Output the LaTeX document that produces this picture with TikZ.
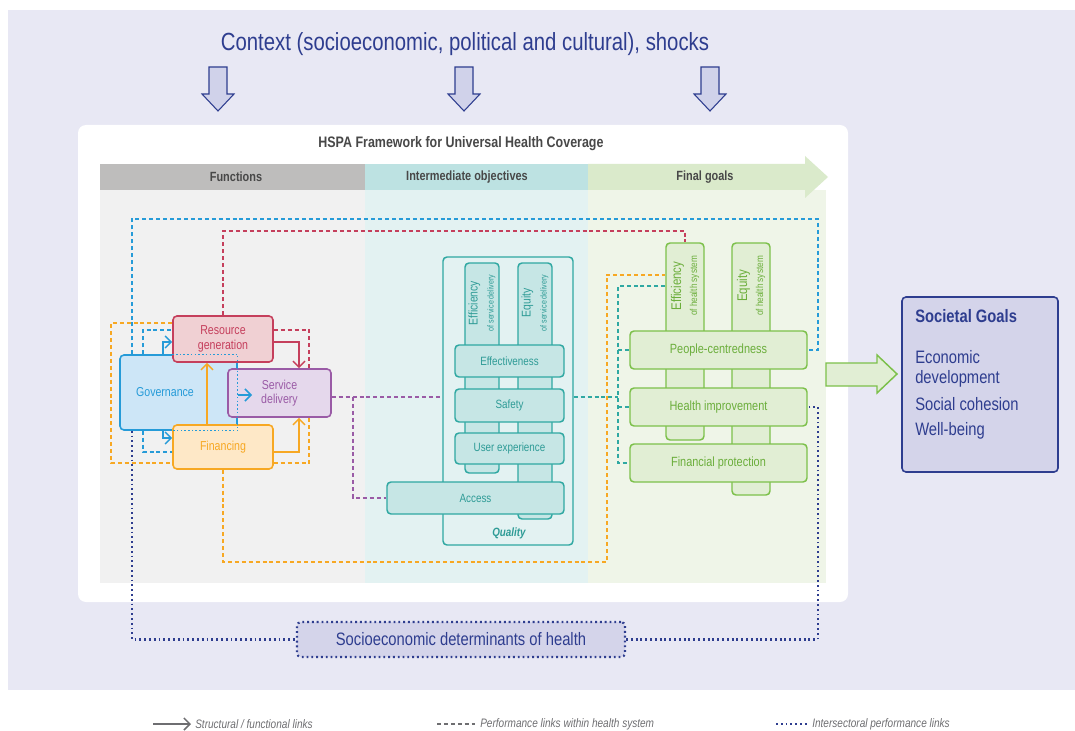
\documentclass[tikz,border=0pt]{standalone}
\usepackage{fontspec}
\setmainfont{Liberation Sans}[FakeStretch=0.82]
\usetikzlibrary{arrows.meta}

\definecolor{lavbg}{RGB}{232,232,244}
\definecolor{navyc}{RGB}{46,61,143}
\definecolor{arrfill}{RGB}{208,210,234}
\definecolor{hdrgray}{RGB}{190,189,188}
\definecolor{hdrteal}{RGB}{189,226,226}
\definecolor{hdrgreen}{RGB}{218,234,203}
\definecolor{colgray}{RGB}{241,241,241}
\definecolor{colteal}{RGB}{227,242,242}
\definecolor{colgreen}{RGB}{239,245,232}
\definecolor{govc}{RGB}{38,155,216}
\definecolor{govfill}{RGB}{205,230,247}
\definecolor{rgc}{RGB}{197,63,92}
\definecolor{rgfill}{RGB}{240,208,211}
\definecolor{sdc}{RGB}{154,91,166}
\definecolor{sdfill}{RGB}{229,216,236}
\definecolor{finc}{RGB}{247,168,35}
\definecolor{finfill}{RGB}{254,232,199}
\definecolor{tealc}{RGB}{47,168,162}
\definecolor{tealfill}{RGB}{198,230,229}
\definecolor{tealtxt}{RGB}{46,155,150}
\definecolor{grnc}{RGB}{124,192,74}
\definecolor{grnfill}{RGB}{225,238,212}
\definecolor{grntxt}{RGB}{107,174,59}
\definecolor{socfill}{RGB}{212,212,234}
\definecolor{hdrtxt}{RGB}{72,72,72}
\definecolor{lgdtxt}{RGB}{110,110,113}

\newcommand{\ctxfont}{\fontsize{18.6pt}{21pt}\selectfont}
\newcommand{\ttlfont}{\bfseries\fontsize{11.4pt}{13pt}\selectfont}
\newcommand{\hdrfont}{\bfseries\fontsize{10pt}{11pt}\selectfont}
\newcommand{\fnfont}{\fontsize{9.7pt}{10.7pt}\selectfont}
\newcommand{\iofont}{\fontsize{9pt}{10pt}\selectfont}
\newcommand{\fgfont}{\fontsize{10pt}{11pt}\selectfont}
\newcommand{\socfont}{\fontsize{13.5pt}{15pt}\selectfont}
\newcommand{\lgdfont}{\itshape\fontsize{9.2pt}{10pt}\selectfont}

\tikzset{
  box/.style={draw, rounded corners=3pt, line width=1.2pt, inner sep=0pt, align=center},
  fnbox/.style={box, font=\fnfont},
  govbox/.style={fnbox, draw=govc, fill=govfill, text=govc},
  rgbox/.style={fnbox, draw=rgc, fill=rgfill, text=rgc},
  sdbox/.style={fnbox, draw=sdc, fill=sdfill, text=sdc},
  finbox/.style={fnbox, draw=finc, fill=finfill, text=finc},
  iobox/.style={box, line width=1.1pt, draw=tealc, fill=tealfill, text=tealtxt, font=\iofont},
  fgbox/.style={box, line width=1.1pt, draw=grnc, fill=grnfill, text=grntxt, font=\fgfont},
  barlbl/.style={rotate=90, align=center, inner sep=0pt},
  perf/.style={line width=1pt, dash pattern={on 3pt off 2.2pt}},
  inter/.style={draw=navyc, line width=1.6pt, dash pattern={on 1.4pt off 2.2pt}},
  struct/.style={line width=1.1pt, -{Straight Barb[length=4.5pt,width=9pt]}},
  ctxarrow/.style={draw=navyc, fill=arrfill, line width=0.8pt},
  hdrlbl/.style={font=\hdrfont, text=hdrtxt},
  lgdlbl/.style={font=\lgdfont, text=lgdtxt, anchor=west, inner sep=0pt},
}

\begin{document}
\begin{tikzpicture}[x=0.75pt,y=0.75pt,yscale=-1,xscale=1]
\useasboundingbox (0,0) rectangle (1075,731);

% backgrounds
\fill[lavbg] (8,10) rectangle (1075,690);
\fill[white, rounded corners=6pt] (78,125) rectangle (848,602);
\fill[colgray] (100,190) rectangle (365,583);
\fill[colteal] (365,190) rectangle (588,583);
\fill[colgreen] (588,190) rectangle (826,583);

% context
\node[font=\ctxfont, text=navyc] (ctx) at (465,44) {Context (socioeconomic, political and cultural), shocks};
\foreach \cx in {218,464,710}
  \draw[ctxarrow] (\cx-9,67) -- (\cx+9,67) -- (\cx+9,94) -- (\cx+16,94) -- (\cx,111) -- (\cx-16,94) -- (\cx-9,94) -- cycle;

% header band
\node[font=\ttlfont, text=hdrtxt] (ttl) at (461,144) {HSPA Framework for Universal Health Coverage};
\fill[hdrgray] (100,164) rectangle (365,190);
\fill[hdrteal] (365,164) rectangle (588,190);
\fill[hdrgreen] (588,164) -- (805,164) -- (805,156) -- (828,177) -- (805,198) -- (805,190) -- (588,190) -- cycle;
\node[hdrlbl] (hfun) at (236,177) {Functions};
\node[hdrlbl] (hint) at (467,177) {Intermediate objectives};
\node[hdrlbl] (hfin) at (705,177) {Final goals};

% functions
\node[govbox, minimum width=87.75pt, minimum height=56.25pt] (gov) at (178.5,392.5) {};
\node[font=\fnfont, text=govc] (govlbl) at (165,392) {Governance};
\node[rgbox, minimum width=75pt, minimum height=34.5pt] (rg) at (223,339) {Resource\\generation};
\node[finbox, minimum width=75pt, minimum height=33pt] (fin) at (223,447) {Financing};
\node[sdbox, minimum width=77.25pt, minimum height=36pt] (sd) at (279.5,393) {Service\\delivery};
\draw[govc, line width=1pt, dash pattern={on 1.2pt off 1.6pt}] (rg.west |- gov.north) -| (gov.south east) -- (fin.west |- gov.south);

% intermediate objectives
\node[box, line width=1.1pt, draw=tealc, minimum width=97.5pt, minimum height=216pt] (qual) at (508,401) {};
\node[font=\bfseries\itshape\iofont, text=tealtxt] (quallbl) at (509,533) {Quality};
\node[iobox, minimum width=25.5pt, minimum height=157.5pt] (effsd) at (482,368) {};
\node[iobox, minimum width=25.5pt, minimum height=192pt] (eqsd) at (535,391) {};
\node[barlbl, text=tealtxt] (effsdlbl) at (482,303) {{\fontsize{9.5pt}{8pt}\selectfont Efficiency}\\{\fontsize{6.5pt}{7pt}\selectfont of service delivery}};
\node[barlbl, text=tealtxt] (eqsdlbl) at (535,303) {{\fontsize{9.5pt}{8pt}\selectfont Equity}\\{\fontsize{6.5pt}{7pt}\selectfont of service delivery}};
\node[iobox, minimum width=81.75pt, minimum height=24pt] (effect) at (509.5,361) {Effectiveness};
\node[iobox, minimum width=81.75pt, minimum height=24.75pt] (safety) at (509.5,405.5) {Safety};
\node[iobox, minimum width=81.75pt, minimum height=23.25pt] (userexp) at (509.5,448.5) {User experience};
\node[iobox, minimum width=132.75pt, minimum height=24pt] (access) at (475.5,498) {Access};

% final goals
\node[fgbox, minimum width=28.5pt, minimum height=147.75pt] (effhs) at (685,341.5) {};
\node[fgbox, minimum width=28.5pt, minimum height=189pt] (eqhs) at (751,369) {};
\node[barlbl, text=grntxt] (effhslbl) at (685,286) {{\fontsize{10.5pt}{9pt}\selectfont Efficiency}\\{\fontsize{7.5pt}{8pt}\selectfont of health system}};
\node[barlbl, text=grntxt] (eqhslbl) at (751,286) {{\fontsize{10.5pt}{9pt}\selectfont Equity}\\{\fontsize{7.5pt}{8pt}\selectfont of health system}};
\node[fgbox, minimum width=132.75pt, minimum height=28.5pt] (pc) at (718.5,350) {People-centredness};
\node[fgbox, minimum width=132.75pt, minimum height=28.5pt] (hi) at (718.5,407) {Health improvement};
\node[fgbox, minimum width=132.75pt, minimum height=28.5pt] (fp) at (718.5,463) {Financial protection};

% societal goals
\draw[fill=grnfill, draw=grnc, line width=1.1pt] (826,363) -- (877,363) -- (877,355) -- (897,374) -- (877,393) -- (877,386) -- (826,386) -- cycle;
\node[box, draw=navyc, fill=socfill, minimum width=117pt, minimum height=131.25pt] (soc) at (980,384.5) {};
\node[anchor=north west, align=left, inner sep=0pt, text=navyc, font=\socfont] (soctxt) at (915,309) {\textbf{Societal Goals}\\[16pt]Economic\\development\\[5pt]Social cohesion\\[4pt]Well-being};
\node[box, draw=navyc, fill=socfill, line width=1.6pt, dash pattern={on 1.4pt off 2.2pt}, text=navyc, font=\socfont, minimum width=246pt, minimum height=26.25pt] (sed) at (461,639.5) {Socioeconomic determinants of health};

% structural links
\draw[struct, draw=govc] (163,0 |- gov.north) |- (rg.west |- 0,342);
\draw[struct, draw=govc] (163,0 |- gov.south) |- (fin.west |- 0,438);
\coordinate (sdin) at (252,395);
\draw[struct, draw=govc] (gov.east |- sdin) -- (sdin);
\draw[struct, draw=finc] (207,0 |- fin.north) -- (207,0 |- rg.south);
\draw[struct, draw=finc] (fin.east |- 0,452) -| (299,0 |- sd.south);
\draw[struct, draw=rgc] (rg.east |- 0,342) -| (299,0 |- sd.north);

% performance links
\draw[perf, govc] (132,0 |- gov.north) |- (818,219) |- (pc.east);
\draw[perf, govc] (143,0 |- gov.north) |- (rg.west |- 0,330);
\draw[perf, govc] (143,0 |- gov.south) |- (fin.west |- 0,452);
\draw[perf, finc] (rg.west |- 0,323) -| (111,463) -- (fin.west |- 0,463);
\draw[perf, finc] (fin.east |- 0,463) -| (309,0 |- sd.south);
\draw[perf, rgc] (rg.east |- 0,330) -| (309,0 |- sd.north);
\draw[perf, rgc] (rg.north) |- (effhs.north |- 0,231) -- (effhs.north);
\draw[perf, finc] (fin.south) |- (607,562) |- (effhs.west |- 0,275);
\draw[perf, sdc] (sd.east |- 0,397) -- (qual.west |- 0,397);
\draw[perf, sdc] (353,397) |- (access.west);
\coordinate (tealjn) at (618,397);
\draw[perf, tealc] (qual.east |- tealjn) -- (tealjn);
\draw[perf, tealc] (effhs.west |- 0,286) -| (618,0 |- fp.west) -- (fp.west);
\draw[perf, tealc] (618,0 |- pc.west) -- (pc.west);
\draw[perf, tealc] (618,0 |- hi.west) -- (hi.west);

% intersectoral links
\draw[inter] (132,0 |- gov.south) |- (sed.west);
\draw[inter] (sed.east) -| (818,0 |- hi.east) -- (hi.east);

% legend
\node[lgdlbl] (lgda) at (195,724) {Structural / functional links};
\coordinate (lgdas) at (153,724);
\draw[struct, draw=lgdtxt] (lgdas) -- ([xshift=-3pt]lgda.west);
\node[lgdlbl] (lgdb) at (480,724) {Performance links within health system};
\coordinate (lgdbs) at (437,724);
\draw[perf, lgdtxt] (lgdbs) -- ([xshift=-4pt]lgdb.west);
\node[lgdlbl] (lgdc) at (812,724) {Intersectoral performance links};
\coordinate (lgdcs) at (776,724);
\draw[inter] (lgdcs) -- ([xshift=-4pt]lgdc.west);

\end{tikzpicture}
\end{document}
